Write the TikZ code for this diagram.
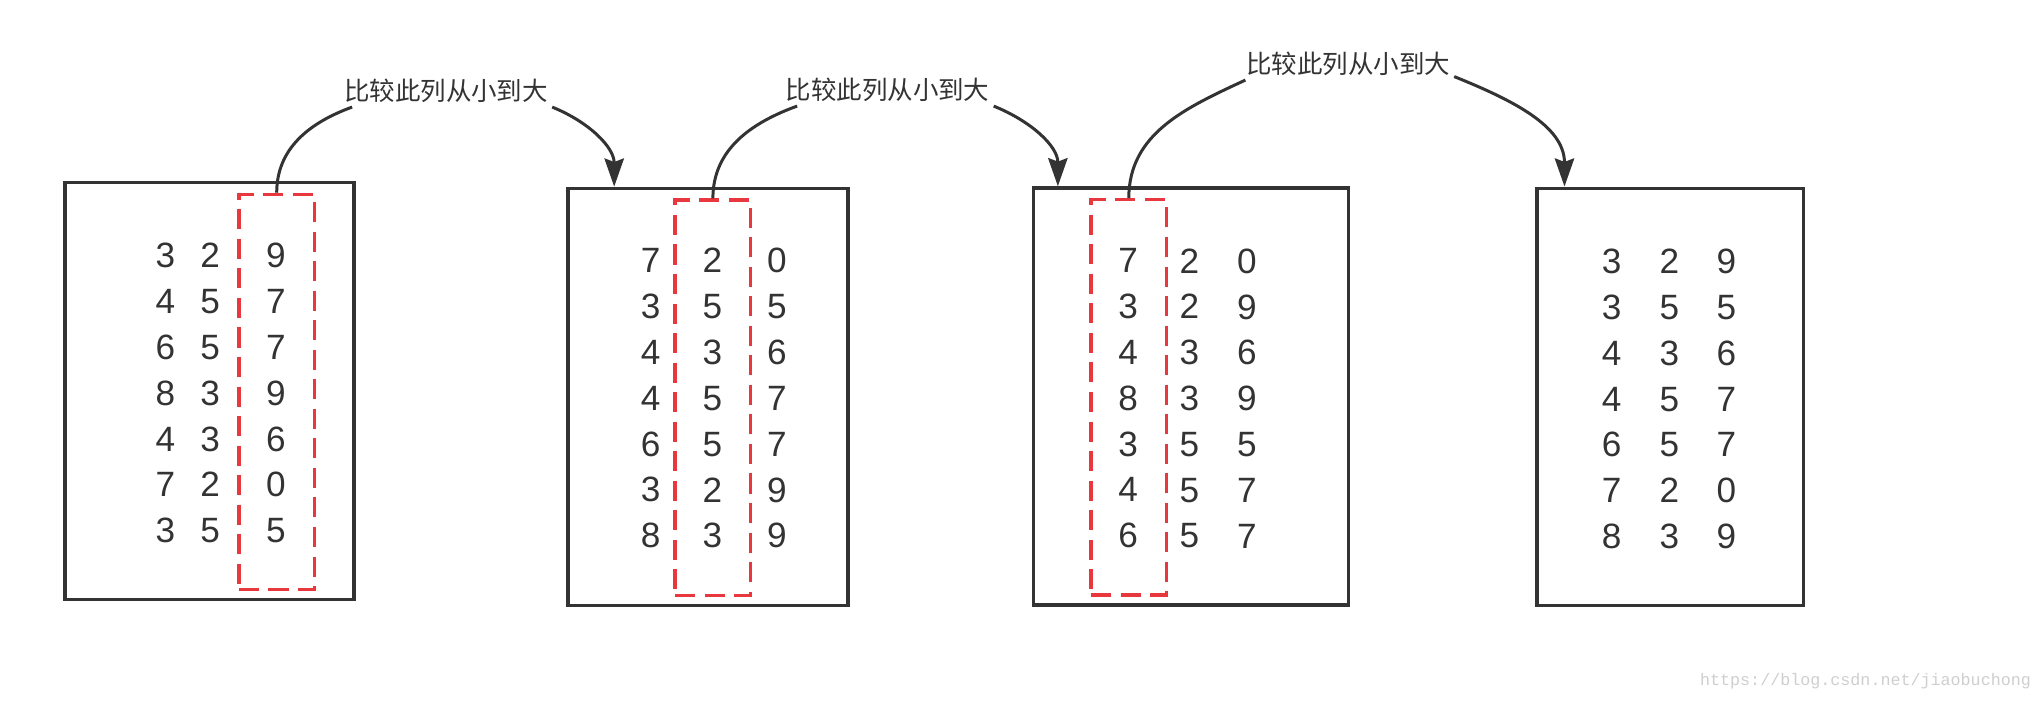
\documentclass[tikz,border=0pt]{standalone}
\usepackage{fontspec}
\setmainfont{Liberation Sans}
\setmonofont{Liberation Mono}
\newfontfamily\cjk{Noto Sans CJK SC}
\usepackage{tikz}
\usetikzlibrary{arrows.meta}
\definecolor{Ink}{HTML}{333333}
\definecolor{PickRed}{HTML}{E8383D}
\definecolor{MarkGray}{HTML}{CFCFCF}

\begin{document}
\begin{tikzpicture}[
  x=0.01cm, y=-0.01cm, every node/.style={text=Ink},
  frame/.style={draw=Ink, line width=1pt, minimum height=4.17cm, inner sep=0pt},
  digits/.style={font=\fontsize{10}{13.03}\selectfont, align=center, inner sep=0pt},
  pick/.style={draw=PickRed, line width=0.95pt, dash pattern=on 5.7pt off 2.7pt,
    minimum width=0.755cm, minimum height=3.95cm, inner sep=0pt},
  note/.style={font=\cjk\fontsize{7.25}{9}\selectfont, fill=white, inner sep=1pt},
  link/.style={line width=0.85pt, Ink},
  arr/.style={-{Stealth[length=8pt, width=5.5pt, inset=1pt]}, line width=0.85pt, Ink}
]
  \fill[white] (0,0) rectangle (2042,702);
  \useasboundingbox (0,0) rectangle (2042,702);

  % Box 1
  \node[frame, minimum width=2.89cm] (box1) at (209.5,390.9) {};
  \node[digits] (b1c1) at (165.3,393.1) {3\\4\\6\\8\\4\\7\\3};
  \node[digits] (b1c2) at (210.2,393.1) {2\\5\\5\\3\\3\\2\\5};
  \node[digits] (b1c3) at (275.9,393.1) {9\\7\\7\\9\\6\\0\\5};
  \node[pick] (red1) at (276.7,392) {};

  % Box 2
  \node[frame, minimum width=2.80cm] (box2) at (708,397) {};
  \node[digits] (b2c1) at (650.7,398.3) {7\\3\\4\\4\\6\\3\\8};
  \node[digits] (b2c2) at (712.5,398.3) {2\\5\\3\\5\\5\\2\\3};
  \node[digits] (b2c3) at (776.8,398.3) {0\\5\\6\\7\\7\\9\\9};
  \node[pick] (red2) at (712.9,397.6) {};

  % Box 3
  \node[frame, minimum width=3.146cm] (box3) at (1191,396.6) {};
  \node[digits] (b3c1) at (1128.2,398.4) {7\\3\\4\\8\\3\\4\\6};
  \node[digits] (b3c2) at (1189.4,398.4) {2\\2\\3\\3\\5\\5\\5};
  \node[digits] (b3c3) at (1246.8,398.4) {0\\9\\6\\9\\5\\7\\7};
  \node[pick] (red3) at (1128.8,397.4) {};

  % Box 4 (sorted)
  \node[frame, minimum width=2.662cm] (box4) at (1670.4,396.9) {};
  \node[digits] (b4c1) at (1611.6,399) {3\\3\\4\\4\\6\\7\\8};
  \node[digits] (b4c2) at (1669.4,399) {2\\5\\3\\5\\5\\2\\3};
  \node[digits] (b4c3) at (1726.4,399) {9\\5\\6\\7\\7\\0\\9};

  % Labels
  \node[note] (lab1) at (446,91) {比较此列从小到大};
  \node[note] (lab2) at (887.5,90) {比较此列从小到大};
  \node[note] (lab3) at (1348,64) {比较此列从小到大};

  % Arrows
  \draw[link] (red1.north) to[out=90, in=200] ([xshift=3.5pt]lab1.south west);
  \draw[arr] (lab1.south east) to[out=-22, in=90] ([xshift=0.48cm]box2.north west);
  \draw[link] (red2.north) to[out=90, in=200] ([xshift=4.5pt]lab2.south west);
  \draw[arr] (lab2.south east) to[out=-22, in=90] ([xshift=0.26cm]box3.north west);
  \draw[link] (red3.north) to[out=90, in=205] ([xshift=1pt]lab3.south west);
  \draw[arr] ([yshift=1pt]lab3.south east) to[out=-22, in=90] ([xshift=0.29cm]box4.north west);

  % Watermark
  \node[font=\ttfamily\fontsize{4.75}{6}\selectfont, text=MarkGray] (mark)
    at (1865.5,681.5) {https://blog.csdn.net/jiaobuchong};
\end{tikzpicture}
\end{document}
